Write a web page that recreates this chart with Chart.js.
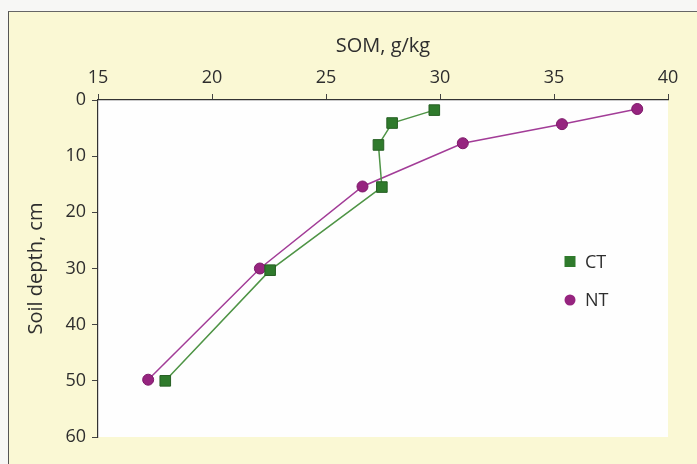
<!DOCTYPE html>
<html>
<head>
<meta charset="utf-8">
<script src="https://cdn.jsdelivr.net/npm/chart.js@4.4.0/dist/chart.umd.min.js"></script>
<style>
  html, body { margin: 0; padding: 0; background: #f7f7f5; }
  #frame {
    position: absolute; left: 8px; top: 11px; width: 688px; height: 452px;
    border-left: 1.5px solid #555; border-top: 1.5px solid #666;
    background: #faf8d4;
  }
  canvas { display: block; }
</style>
</head>
<body>
<div id="frame"><canvas id="myChart" width="688" height="452"></canvas></div>
<script>
// SOM (g/kg) vs soil depth (cm)
const ctSom = [29.75, 27.9, 27.3, 27.45, 22.55, 17.95];
const ctDepth = [1.8, 4.1, 8.0, 15.5, 30.3, 50.0];
const ntSom = [38.65, 35.35, 31.0, 26.6, 22.1, 17.2];
const ntDepth = [1.6, 4.3, 7.7, 15.4, 30.0, 49.8];
const xTicks = [15, 20, 25, 30, 35, 40];
const yTicks = [0, 10, 20, 30, 40, 50, 60];

const font = "'Open Sans', 'Noto Sans', sans-serif";
const textColor = "#2e2e2e";
const ctGreen = "#2f7a2c";
const ntPurple = "#96247f";

const toPoints = (xs, ys) => xs.map((x, i) => ({ x, y: ys[i] }));

// white plot area + hand placed legend
const plotBg = {
  id: "plotBg",
  beforeDraw(chart) {
    const { ctx, chartArea: a } = chart;
    ctx.save();
    ctx.fillStyle = "#fefefe";
    ctx.fillRect(a.left, a.top, a.right - a.left, a.bottom - a.top);
    ctx.restore();
  },
  afterDraw(chart) {
    const { ctx, chartArea: a } = chart;
    const lx = a.left + 472;
    const items = [
      { label: "CT", color: ctGreen, shape: "rect", y: a.top + 161.5 },
      { label: "NT", color: ntPurple, shape: "circle", y: a.top + 200 },
    ];
    ctx.save();
    ctx.font = "18px " + font;
    ctx.textBaseline = "middle";
    items.forEach(it => {
      ctx.fillStyle = it.color;
      ctx.beginPath();
      if (it.shape === "rect") ctx.rect(lx - 5.5, it.y - 5.5, 11, 11);
      else ctx.arc(lx, it.y, 5.5, 0, Math.PI * 2);
      ctx.fill();
      ctx.fillStyle = textColor;
      ctx.fillText(it.label, lx + 15, it.y + 1);
    });
    ctx.restore();
  }
};

const config = {
  type: "scatter",
  data: {
    datasets: [
      {
        label: "CT",
        data: toPoints(ctSom, ctDepth),
        showLine: true,
        borderColor: "#4e9445",
        borderWidth: 1.5,
        backgroundColor: ctGreen,
        pointStyle: "rect",
        pointRadius: 7.5,
        pointBorderColor: "#276024",
        pointBorderWidth: 1,
      },
      {
        label: "NT",
        data: toPoints(ntSom, ntDepth),
        showLine: true,
        borderColor: "#a23c97",
        borderWidth: 1.5,
        backgroundColor: ntPurple,
        pointStyle: "circle",
        pointRadius: 5.5,
        pointBorderColor: "#7e1a6a",
        pointBorderWidth: 1,
      },
    ],
  },
  options: {
    responsive: false,
    animation: false,
    layout: { padding: { left: 0, top: 0, right: 29, bottom: 27 } },
    plugins: {
      legend: { display: false },
      tooltip: { enabled: false },
    },
    scales: {
      x: {
        type: "linear",
        position: "top",
        min: 15,
        max: 40,
        afterBuildTicks: (s) => { s.ticks = xTicks.map(v => ({ value: v })); },
        afterFit: (s) => { s.height = 88; },
        title: {
          display: true,
          text: "SOM, g/kg",
          color: textColor,
          font: { family: font, size: 20 },
          padding: { top: 22, bottom: 0 },
        },
        ticks: { color: textColor, font: { family: font, size: 18 }, padding: 5 },
        grid: {
          display: true,
          drawOnChartArea: false,
          drawTicks: true,
          tickLength: 6,
          color: "#444",
        },
        border: { display: true, color: "#333", width: 1.2 },
      },
      y: {
        type: "linear",
        reverse: true,
        min: 0,
        max: 60,
        afterBuildTicks: (s) => { s.ticks = yTicks.map(v => ({ value: v })); },
        afterFit: (s) => { s.width = 89; },
        title: {
          display: true,
          text: "Soil depth, cm",
          color: textColor,
          font: { family: font, size: 20 },
          padding: { top: 15, bottom: 0 },
        },
        ticks: { color: textColor, font: { family: font, size: 18 }, padding: 6 },
        grid: {
          display: true,
          drawOnChartArea: false,
          drawTicks: true,
          tickLength: 6,
          color: "#444",
        },
        border: { display: true, color: "#333", width: 1.2 },
      },
    },
  },
  plugins: [plotBg],
};

new Chart(document.getElementById("myChart"), config);
</script>
</body>
</html>
